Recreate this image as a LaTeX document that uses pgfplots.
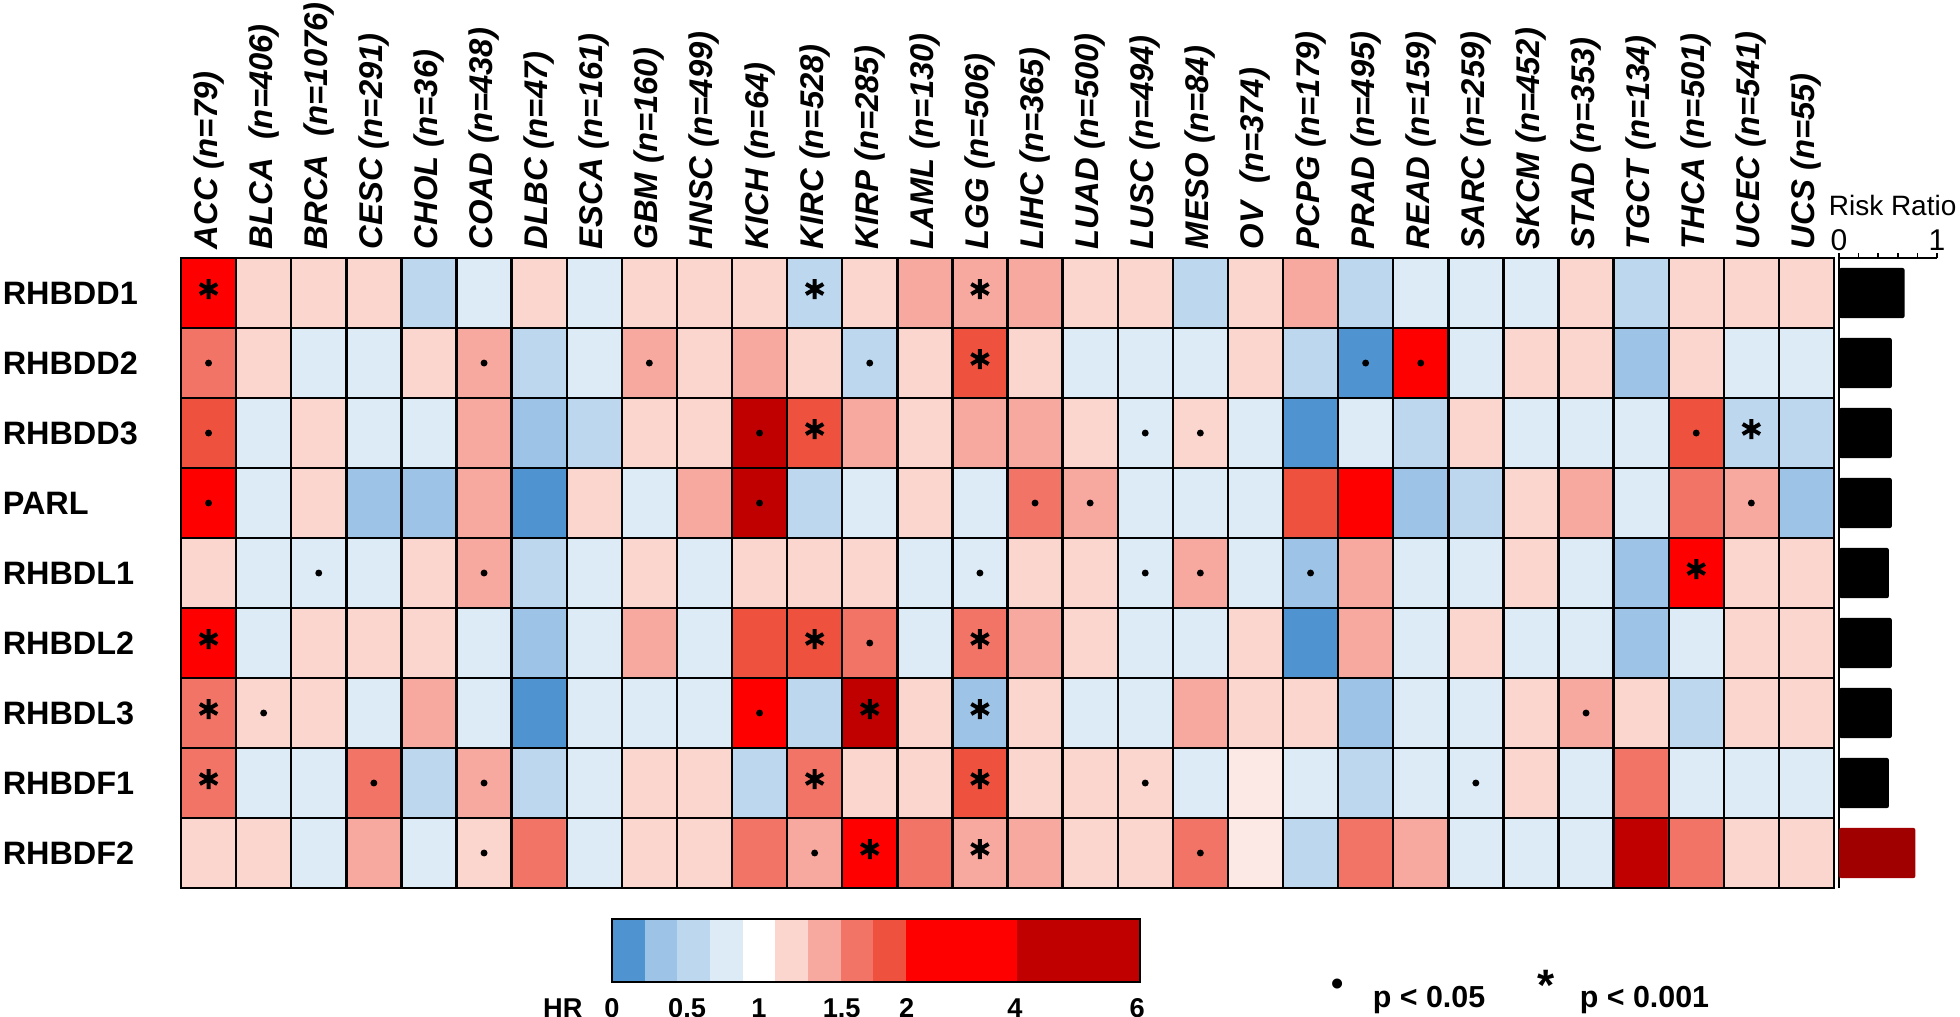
\documentclass[border=0pt]{standalone}
\usepackage{pgfplots}
\usepackage{pgfplotstable}
\pgfplotsset{compat=1.18}
\usepackage{fontspec}
\setmainfont{Liberation Sans}

% HR classes of the colour key: 0 = HR < 0.25 ... 10 = HR 2-4, 11 = HR 4-6
\definecolor{hc0}{RGB}{79,147,209}
\definecolor{hc1}{RGB}{157,195,230}
\definecolor{hc2}{RGB}{189,215,238}
\definecolor{hc3}{RGB}{221,235,247}
\definecolor{hc4}{RGB}{255,255,255}
\definecolor{hc5}{RGB}{252,232,228}
\definecolor{hc6}{RGB}{250,214,207}
\definecolor{hc7}{RGB}{247,169,160}
\definecolor{hc8}{RGB}{242,116,102}
\definecolor{hc9}{RGB}{238,82,62}
\definecolor{hc10}{RGB}{255,0,0}
\definecolor{hc11}{RGB}{192,0,0}
\definecolor{rrred}{RGB}{160,0,0}

% x = cancer type (ACC ... UCS), y = gene (0 = RHBDF2 ... 8 = RHBDD1), c = HR class
\pgfplotstableread[row sep=\\]{
x y c\\
0 0 6\\ 1 0 6\\ 2 0 3\\ 3 0 7\\ 4 0 3\\ 5 0 6\\ 6 0 8\\ 7 0 3\\ 8 0 6\\ 9 0 6\\ 10 0 8\\ 11 0 7\\ 12 0 10\\ 13 0 8\\ 14 0 7\\ 15 0 7\\ 16 0 6\\ 17 0 6\\ 18 0 8\\ 19 0 5\\ 20 0 2\\ 21 0 8\\ 22 0 7\\ 23 0 3\\ 24 0 3\\ 25 0 3\\ 26 0 11\\ 27 0 8\\ 28 0 6\\ 29 0 6\\
0 1 8\\ 1 1 3\\ 2 1 3\\ 3 1 8\\ 4 1 2\\ 5 1 7\\ 6 1 2\\ 7 1 3\\ 8 1 6\\ 9 1 6\\ 10 1 2\\ 11 1 8\\ 12 1 6\\ 13 1 6\\ 14 1 9\\ 15 1 6\\ 16 1 6\\ 17 1 6\\ 18 1 3\\ 19 1 5\\ 20 1 3\\ 21 1 2\\ 22 1 3\\ 23 1 3\\ 24 1 6\\ 25 1 3\\ 26 1 8\\ 27 1 3\\ 28 1 3\\ 29 1 3\\
0 2 8\\ 1 2 6\\ 2 2 6\\ 3 2 3\\ 4 2 7\\ 5 2 3\\ 6 2 0\\ 7 2 3\\ 8 2 3\\ 9 2 3\\ 10 2 10\\ 11 2 2\\ 12 2 11\\ 13 2 6\\ 14 2 1\\ 15 2 6\\ 16 2 3\\ 17 2 3\\ 18 2 7\\ 19 2 6\\ 20 2 6\\ 21 2 1\\ 22 2 3\\ 23 2 3\\ 24 2 6\\ 25 2 7\\ 26 2 6\\ 27 2 2\\ 28 2 6\\ 29 2 6\\
0 3 10\\ 1 3 3\\ 2 3 6\\ 3 3 6\\ 4 3 6\\ 5 3 3\\ 6 3 1\\ 7 3 3\\ 8 3 7\\ 9 3 3\\ 10 3 9\\ 11 3 9\\ 12 3 8\\ 13 3 3\\ 14 3 8\\ 15 3 7\\ 16 3 6\\ 17 3 3\\ 18 3 3\\ 19 3 6\\ 20 3 0\\ 21 3 7\\ 22 3 3\\ 23 3 6\\ 24 3 3\\ 25 3 3\\ 26 3 1\\ 27 3 3\\ 28 3 6\\ 29 3 6\\
0 4 6\\ 1 4 3\\ 2 4 3\\ 3 4 3\\ 4 4 6\\ 5 4 7\\ 6 4 2\\ 7 4 3\\ 8 4 6\\ 9 4 3\\ 10 4 6\\ 11 4 6\\ 12 4 6\\ 13 4 3\\ 14 4 3\\ 15 4 6\\ 16 4 6\\ 17 4 3\\ 18 4 7\\ 19 4 3\\ 20 4 1\\ 21 4 7\\ 22 4 3\\ 23 4 3\\ 24 4 6\\ 25 4 3\\ 26 4 1\\ 27 4 10\\ 28 4 6\\ 29 4 6\\
0 5 10\\ 1 5 3\\ 2 5 6\\ 3 5 1\\ 4 5 1\\ 5 5 7\\ 6 5 0\\ 7 5 6\\ 8 5 3\\ 9 5 7\\ 10 5 11\\ 11 5 2\\ 12 5 3\\ 13 5 6\\ 14 5 3\\ 15 5 8\\ 16 5 7\\ 17 5 3\\ 18 5 3\\ 19 5 3\\ 20 5 9\\ 21 5 10\\ 22 5 1\\ 23 5 2\\ 24 5 6\\ 25 5 7\\ 26 5 3\\ 27 5 8\\ 28 5 7\\ 29 5 1\\
0 6 9\\ 1 6 3\\ 2 6 6\\ 3 6 3\\ 4 6 3\\ 5 6 7\\ 6 6 1\\ 7 6 2\\ 8 6 6\\ 9 6 6\\ 10 6 11\\ 11 6 9\\ 12 6 7\\ 13 6 6\\ 14 6 7\\ 15 6 7\\ 16 6 6\\ 17 6 3\\ 18 6 6\\ 19 6 3\\ 20 6 0\\ 21 6 3\\ 22 6 2\\ 23 6 6\\ 24 6 3\\ 25 6 3\\ 26 6 3\\ 27 6 9\\ 28 6 2\\ 29 6 2\\
0 7 8\\ 1 7 6\\ 2 7 3\\ 3 7 3\\ 4 7 6\\ 5 7 7\\ 6 7 2\\ 7 7 3\\ 8 7 7\\ 9 7 6\\ 10 7 7\\ 11 7 6\\ 12 7 2\\ 13 7 6\\ 14 7 9\\ 15 7 6\\ 16 7 3\\ 17 7 3\\ 18 7 3\\ 19 7 6\\ 20 7 2\\ 21 7 0\\ 22 7 10\\ 23 7 3\\ 24 7 6\\ 25 7 6\\ 26 7 1\\ 27 7 6\\ 28 7 3\\ 29 7 3\\
0 8 10\\ 1 8 6\\ 2 8 6\\ 3 8 6\\ 4 8 2\\ 5 8 3\\ 6 8 6\\ 7 8 3\\ 8 8 6\\ 9 8 6\\ 10 8 6\\ 11 8 2\\ 12 8 6\\ 13 8 7\\ 14 8 7\\ 15 8 7\\ 16 8 6\\ 17 8 6\\ 18 8 2\\ 19 8 6\\ 20 8 7\\ 21 8 2\\ 22 8 3\\ 23 8 3\\ 24 8 3\\ 25 8 6\\ 26 8 2\\ 27 8 6\\ 28 8 6\\ 29 8 6\\
}\hrdata

\begin{document}
\begin{tikzpicture}
\useasboundingbox (0pt,0pt) rectangle (490pt,-254.25pt);

% heat map
\begin{axis}[
    at={(45.25pt,-222pt)}, anchor=south west,
    scale only axis, width=413.25pt, height=157.5pt,
    xmin=-0.5, xmax=29.5, ymin=-0.5, ymax=8.5,
    axis on top,
    axis line style={black, line width=0.6pt},
    colormap={hrclass}{color=(hc0) color=(hc1) color=(hc2) color=(hc3) color=(hc4) color=(hc5)
                       color=(hc6) color=(hc7) color=(hc8) color=(hc9) color=(hc10) color=(hc11)},
    colormap access=direct,
    xtick={0,...,29}, ytick={0,...,8},
    xticklabel pos=right,
    xticklabels={ACC (n=79), BLCA\ \ (n=406), BRCA\ \ (n=1076), CESC (n=291), CHOL (n=36),
        COAD (n=438), DLBC (n=47), ESCA (n=161), GBM (n=160), HNSC (n=499),
        KICH (n=64), KIRC (n=528), KIRP (n=285), LAML (n=130), LGG (n=506),
        LIHC (n=365), LUAD (n=500), LUSC (n=494), MESO (n=84), OV\ \ (n=374),
        PCPG (n=179), PRAD (n=495), READ (n=159), SARC (n=259), SKCM (n=452),
        STAD (n=353), TGCT (n=134), THCA (n=501), UCEC (n=541), UCS (n=55)},
    yticklabels={RHBDF2, RHBDF1, RHBDL3, RHBDL2, RHBDL1, PARL, RHBDD3, RHBDD2, RHBDD1},
    major tick length=0pt, minor tick length=0pt,
    minor xtick={0.5,1.5,...,28.5}, minor ytick={0.5,1.5,...,7.5},
    xminorgrids, yminorgrids,
    minor grid style={black, line width=0.6pt},
    xticklabel style={rotate=90, anchor=west, inner sep=2pt,
        font=\fontsize{8.2}{9}\selectfont\bfseries\itshape},
    yticklabel style={anchor=west, inner sep=0pt, xshift=-44.75pt,
        font=\fontsize{8.1}{9}\selectfont\bfseries},
]
\addplot [matrix plot*, mesh/cols=30, point meta=explicit] table [meta=c] {\hrdata};
% p < 0.05
\addplot [only marks, mark=*, mark size=0.65pt, black] coordinates {
    (0,7) (5,7) (8,7) (12,7) (21,7) (22,7)
    (0,6) (10,6) (17,6) (18,6) (27,6)
    (0,5) (10,5) (15,5) (16,5) (28,5)
    (2,4) (5,4) (14,4) (17,4) (18,4) (20,4)
    (12,3)
    (1,2) (10,2) (25,2)
    (3,1) (5,1) (17,1) (23,1)
    (5,0) (11,0) (18,0)};
% p < 0.001
\addplot [only marks, mark=asterisk, mark size=2.5pt, line width=1pt, black,
    mark options={yshift=1pt}] coordinates {
    (0,8) (11,8) (14,8)
    (14,7)
    (11,6) (28,6)
    (27,4)
    (0,3) (11,3) (14,3)
    (0,2) (12,2) (14,2)
    (0,1) (11,1) (14,1)
    (12,0) (14,0)};
\end{axis}

% risk ratio bars
\begin{axis}[
    at={(459.75pt,-222pt)}, anchor=south west,
    scale only axis, width=24.5pt, height=157.5pt,
    xmin=0, xmax=1, ymin=-0.5, ymax=8.5,
    axis x line*=top, axis y line*=left,
    axis line style={black, line width=0.5pt},
    xtick={0,1}, minor xtick={0.2,0.4,0.6,0.8}, ytick=\empty,
    tick align=outside, major tick length=1.2pt, minor tick length=1.2pt,
    tick style={black, line width=0.4pt},
    /pgf/number format/assume math mode=true,
    xticklabel style={inner sep=0.5pt, font=\fontsize{7.5}{8}\selectfont},
]
\addplot [xbar, bar width=0.72, bar shift=0pt, fill=black, draw=none, rounded corners=0.6pt]
    coordinates {(0.67,8) (0.54,7) (0.54,6) (0.54,5) (0.51,4) (0.54,3) (0.54,2) (0.51,1)};
\addplot [xbar, bar width=0.72, bar shift=0pt, fill=rrred, draw=none, rounded corners=0.6pt]
    coordinates {(0.78,0)};
\end{axis}
\node [anchor=west, inner sep=0pt, font=\fontsize{7}{8}\selectfont] at (457pt,-51.25pt) {Risk Ratio};

% colour key
\begin{axis}[
    at={(153pt,-245.5pt)}, anchor=south west,
    scale only axis, width=132pt, height=15.75pt,
    xmin=0, xmax=16.16, ymin=0, ymax=1,
    axis on top, axis line style={black, line width=0.6pt},
    ytick=\empty, major tick length=0pt,
    xtick={0,2.3,4.5,7.03,9.02,12.33,16.07},
    xticklabels={\llap{HR\hspace{5.5pt}}0, 0.5, 1, 1.5, 2, 4, 6},
    xticklabel style={inner sep=0pt, yshift=-3.9pt, font=\fontsize{6.8}{8}\selectfont\bfseries},
]
\addplot [fill=hc0, draw=none] coordinates {(0,1) (1,1)} \closedcycle;
\addplot [fill=hc1, draw=none] coordinates {(1,1) (2,1)} \closedcycle;
\addplot [fill=hc2, draw=none] coordinates {(2,1) (3,1)} \closedcycle;
\addplot [fill=hc3, draw=none] coordinates {(3,1) (4,1)} \closedcycle;
\addplot [fill=hc4, draw=none] coordinates {(4,1) (5,1)} \closedcycle;
\addplot [fill=hc6, draw=none] coordinates {(5,1) (6,1)} \closedcycle;
\addplot [fill=hc7, draw=none] coordinates {(6,1) (7,1)} \closedcycle;
\addplot [fill=hc8, draw=none] coordinates {(7,1) (8,1)} \closedcycle;
\addplot [fill=hc9, draw=none] coordinates {(8,1) (9,1)} \closedcycle;
\addplot [fill=hc10, draw=none] coordinates {(9,1) (12.39,1)} \closedcycle;
\addplot [fill=hc11, draw=none] coordinates {(12.39,1) (16.16,1)} \closedcycle;
\end{axis}

% significance key
\node [anchor=base, inner sep=0pt, font=\fontsize{8.7}{9}\selectfont\bfseries]
    at (334.5pt,-248.8pt) {\textbullet};
\node [anchor=base west, inner sep=0pt, font=\fontsize{7.6}{9}\selectfont\bfseries]
    at (343pt,-251.9pt) {p < 0.05};
\node [anchor=base, inner sep=0pt, font=\fontsize{11}{12}\selectfont\bfseries]
    at (386.5pt,-250.1pt) {*};
\node [anchor=base west, inner sep=0pt, font=\fontsize{7.6}{9}\selectfont\bfseries]
    at (394.75pt,-251.9pt) {p < 0.001};
\end{tikzpicture}
\end{document}
